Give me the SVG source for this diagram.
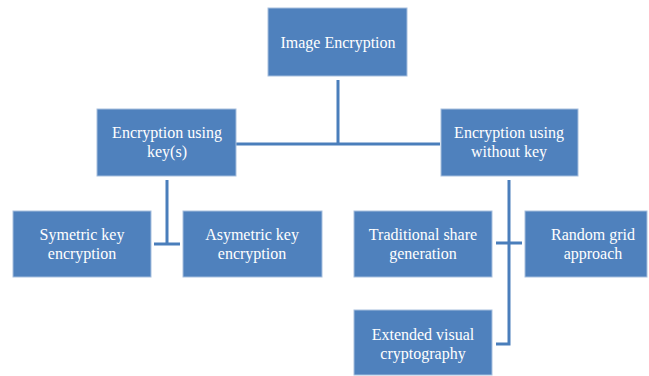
<svg xmlns="http://www.w3.org/2000/svg" width="649" height="376" viewBox="0 0 649 376">
<style>
.box{fill:#4F81BD;stroke:#A7BFDE;stroke-width:1}
.t{font-size:16px;fill:#FFFFFF;text-anchor:middle}
.c{fill:none;stroke:#4A7EBB;stroke-width:3}
</style>
<rect width="649" height="376" fill="#FFFFFF"/>
<g id="connectors">
<path class="c" d="M338 80 V144 M236 144 H440"/>
<path class="c" d="M167 180 V244 M154 244 H180"/>
<path class="c" d="M509 180 V344 H496 M496 243 H522"/>
</g>
<g font-family="Liberation Serif, DejaVu Serif, serif">
<g id="image-encryption">
<rect class="box" x="268" y="8" width="139" height="68"/>
<text class="t" x="338" y="48">Image Encryption</text>
</g>
<g id="encryption-keys">
<rect class="box" x="97" y="109" width="139" height="67"/>
<text class="t" x="167" y="138">Encryption using</text>
<text class="t" x="167" y="157">key(s)</text>
</g>
<g id="encryption-without-key">
<rect class="box" x="441" y="109" width="137" height="67"/>
<text class="t" x="509" y="138">Encryption using</text>
<text class="t" x="509" y="157">without key</text>
</g>
<g id="symetric">
<rect class="box" x="13" y="211" width="138" height="66"/>
<text class="t" x="82" y="240">Symetric key</text>
<text class="t" x="82" y="259">encryption</text>
</g>
<g id="asymetric">
<rect class="box" x="183" y="211" width="139" height="66"/>
<text class="t" x="252" y="240">Asymetric key</text>
<text class="t" x="252" y="259">encryption</text>
</g>
<g id="traditional">
<rect class="box" x="354" y="211" width="138" height="66"/>
<text class="t" x="423" y="240">Traditional share</text>
<text class="t" x="423" y="259">generation</text>
</g>
<g id="random-grid">
<rect class="box" x="525" y="211" width="122" height="66"/>
<text class="t" x="593" y="240">Random grid</text>
<text class="t" x="593" y="259">approach</text>
</g>
<g id="extended">
<rect class="box" x="354" y="310" width="138" height="65"/>
<text class="t" x="423" y="340">Extended visual</text>
<text class="t" x="423" y="359">cryptography</text>
</g>
</g>
</svg>
